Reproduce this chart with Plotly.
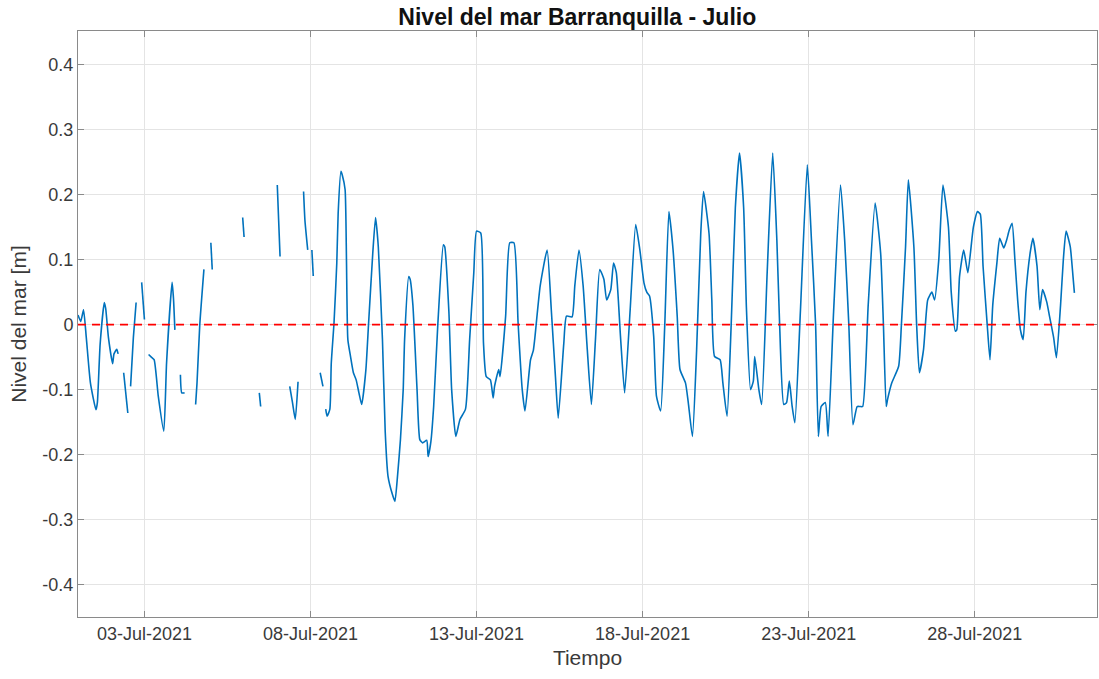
import pandas as pd
import plotly.graph_objects as go

# Hourly sea level at Barranquilla, July 2021 (hours since 2021-07-01 00:00, metres).
# None marks missing records, which break the line.
start = pd.Timestamp("2021-07-01 00:00")

hours = [
    0, 2, 4, 6, 9, 13, 14, 16, 19, 20, 22, 25, 26, 28, 29, 31,
    33, 36, 37,
    38, 40, 42, 44,
    46, 48, 49,
    51, 53, 55, 58, 62, 64, 68, 69, 70, 72,
    74, 75, 77, 80,
    85, 86, 88, 91, 93,
    96, 97, 108,
    119, 120, 125,
    131, 132, 138,
    144, 145, 146, 150,
    153, 155, 157, 159, 161,
    163, 164, 166, 168,
    169, 170, 172,
    175, 177, 178,
    179, 180, 182, 183, 185, 187, 188, 190, 191, 193, 194, 195, 197, 199, 201, 203, 205,
    208, 210, 213, 215, 217, 220, 222, 224, 227, 229, 231, 233, 235, 236, 239, 240, 242,
    245, 247, 249, 252, 253, 255, 257, 260, 264, 265, 268, 270, 273, 276, 280, 283, 286,
    288, 291, 293, 295, 298, 300, 301, 304, 305, 309, 312, 315, 318, 321, 323, 327, 329,
    330, 334, 339, 342, 345, 347, 351, 353, 357, 359, 362, 365, 368, 371, 374, 377, 380,
    382, 385, 387, 389, 392, 395, 399, 403, 406, 409, 411, 413, 416, 418, 421, 424, 427,
    430, 433, 435, 439, 441, 444, 447, 450, 452, 456, 458, 460, 464, 466, 469, 472, 475,
    478, 481, 483, 486, 488, 489, 492, 494, 498, 502, 505, 507, 510, 512, 514, 516, 518,
    522, 527, 530, 533, 535, 537, 540, 542, 546, 551, 554, 557, 560, 563, 565, 567, 571,
    576, 580, 582, 584, 585, 588, 593, 595, 598, 600, 604, 606, 608, 611, 614, 617, 619,
    622, 625, 629, 631, 634, 635, 637, 640, 643, 647, 650, 652, 654, 657, 659, 661, 664,
    666, 669, 671, 673, 675, 677, 679, 681, 683, 685, 688, 690, 693, 695, 697, 700, 702,
    705, 707, 710, 712, 714, 717, 719, 720,
]

level = [
    0.015, 0.005, 0.023, -0.02, -0.09, -0.131, -0.12, -0.03, 0.034, 0.025, -0.02, -0.06, -0.045, -0.038, -0.045, None,
    -0.074, -0.136, None,
    -0.095, -0.02, 0.034, None,
    0.065, 0.008, None,
    -0.046, -0.05, -0.054, -0.11, -0.164, -0.059, 0.065, 0.04, -0.008, None,
    -0.077, -0.105, -0.105, None,
    -0.123, -0.09, 0.0, 0.085, None,
    0.126, 0.085, None,
    0.165, 0.135, None,
    -0.105, -0.126, None,
    0.215, 0.16, 0.105, None,
    -0.095, -0.12, -0.146, -0.088, None,
    0.205, 0.16, 0.115, None,
    0.115, 0.075, None,
    -0.074, -0.095, None,
    -0.13, -0.141, -0.13, -0.06, 0.003, 0.095, 0.172, 0.236, 0.23, 0.208, 0.1, -0.023, -0.05, -0.074, -0.085, -0.105, -0.123,
    -0.07, 0.003, 0.11, 0.165, 0.12, -0.023, -0.165, -0.233, -0.26, -0.272, -0.23, -0.177, -0.1, -0.023, 0.074, 0.07, 0.03,
    -0.1, -0.177, -0.182, -0.178, -0.203, -0.18, -0.126, 0.0, 0.123, 0.12, 0.02, -0.1, -0.172, -0.146, -0.13, -0.023, 0.08,
    0.144, 0.141, -0.028, -0.08, -0.085, -0.113, -0.095, -0.069, -0.08, 0.013, 0.126, 0.126, 0.003, -0.1, -0.133, -0.054, -0.04,
    -0.023, 0.06, 0.115, 0.023, -0.08, -0.144, -0.03, 0.013, 0.012, 0.06, 0.115, 0.06, -0.038, -0.123, -0.02, 0.085, 0.07,
    0.038, 0.054, 0.095, 0.08, -0.018, -0.105, 0.023, 0.154, 0.115, 0.064, 0.05, 0.044, -0.018, -0.11, -0.133, 0.0, 0.174,
    0.115, 0.013, -0.069, -0.09, -0.12, -0.172, -0.04, 0.14, 0.205, 0.14, 0.038, -0.049, -0.054, -0.09, -0.141, 0.0, 0.18,
    0.264, 0.18, 0.026, -0.1, -0.087, -0.049, -0.1, -0.123, 0.08, 0.264, 0.13, 0.0, -0.123, -0.12, -0.087, -0.125, -0.151,
    0.02, 0.246, 0.13, 0.0, -0.172, -0.126, -0.12, -0.172, 0.02, 0.215, 0.13, 0.0, -0.154, -0.126, -0.126, -0.126, 0.03,
    0.187, 0.11, 0.0, -0.126, -0.115, -0.09, -0.064, 0.0, 0.12, 0.223, 0.12, 0.0, -0.074, -0.038, 0.038, 0.05, 0.038,
    0.1, 0.215, 0.15, 0.05, -0.01, -0.008, 0.074, 0.115, 0.08, 0.15, 0.174, 0.17, 0.09, 0.0, -0.054, 0.03, 0.095,
    0.133, 0.118, 0.13, 0.146, 0.156, 0.1, 0.038, -0.008, -0.023, 0.05, 0.11, 0.133, 0.09, 0.023, 0.054, 0.035, 0.013,
    -0.02, -0.051, 0.03, 0.1, 0.144, 0.12, 0.074, 0.049,
]

x_ticks = pd.date_range("2021-07-03", "2021-07-28", freq="5D")
y_ticks = [-0.4, -0.3, -0.2, -0.1, 0.0, 0.1, 0.2, 0.3, 0.4]
y_tick_text = ["-0.4", "-0.3", "-0.2", "-0.1", "0", "0.1", "0.2", "0.3", "0.4"]
x_limits = ["2021-07-01 00:00", "2021-07-31 16:20"]
y_limits = [-0.45, 0.452]
reference_level = 0.0

times = [start + pd.Timedelta(hours=h) for h in hours]

FONT = "Liberation Sans, Arial, sans-serif"

fig = go.Figure()
fig.add_trace(go.Scatter(
    x=times, y=level, mode="lines", connectgaps=False,
    line=dict(color="#0072BD", width=1.6, shape="spline", smoothing=0.5),
    showlegend=False,
))
fig.add_hline(y=reference_level, line=dict(color="#FF0000", width=1.6, dash="8px,6px"), layer="above")

axis_common = dict(
    showline=True, linecolor="#8a8a8a", linewidth=1, mirror="ticks",
    ticks="inside", ticklen=6, tickcolor="#8a8a8a",
    showgrid=True, gridcolor="#e4e4e4", gridwidth=1, zeroline=False,
    tickfont=dict(family=FONT, size=18, color="#3a3a3a"),
)

fig.update_xaxes(
    range=x_limits, tickvals=x_ticks, tickformat="%d-%b-%Y",
    title=dict(text="Tiempo", font=dict(family=FONT, size=21, color="#3a3a3a"), standoff=7),
    **axis_common,
)
fig.update_yaxes(
    range=y_limits, tickvals=y_ticks, ticktext=y_tick_text,
    title=dict(text="Nivel del mar [m]", font=dict(family=FONT, size=21, color="#3a3a3a"), standoff=10),
    **axis_common,
)

fig.update_layout(
    width=1099, height=679,
    margin=dict(l=78, r=2, t=31, b=62),
    paper_bgcolor="white", plot_bgcolor="white",
    title=dict(
        text="<b>Nivel del mar Barranquilla - Julio</b>",
        font=dict(family=FONT, size=23, color="#111111"),
        x=0.49, xref="paper", xanchor="center",
        y=1 - 17 / 679, yref="container", yanchor="middle",
    ),
)

fig.write_html("out.html")
